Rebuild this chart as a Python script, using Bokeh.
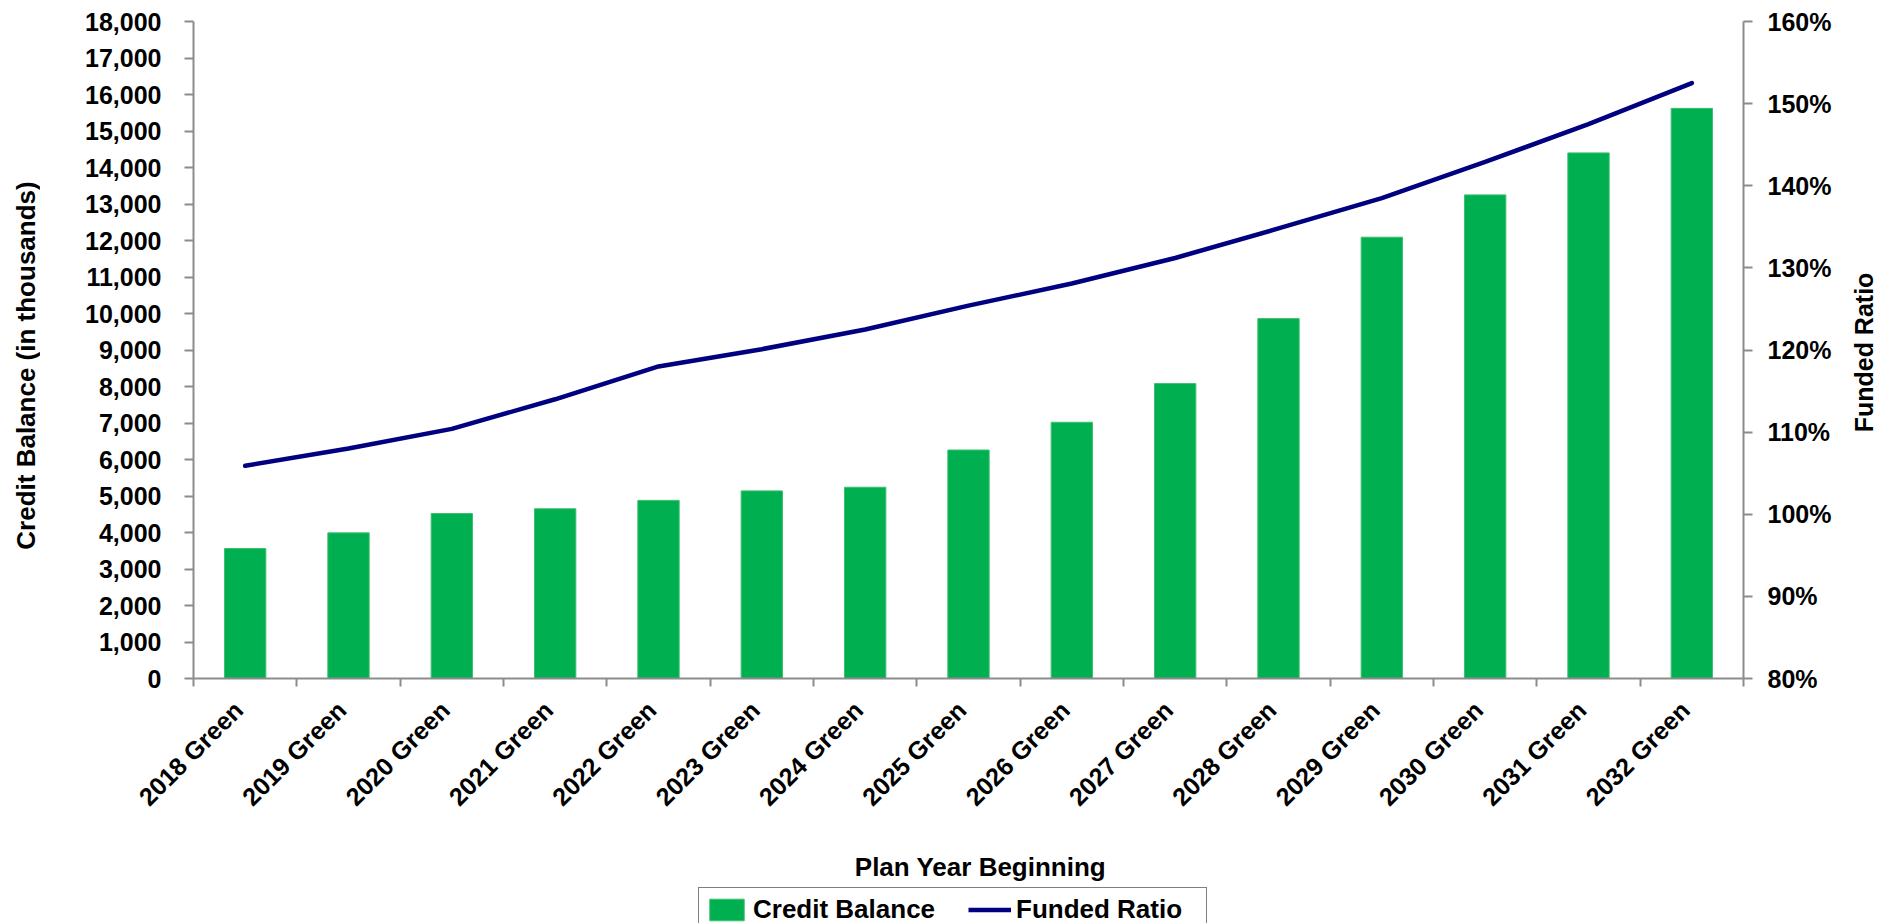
import math
from bokeh.plotting import figure
from bokeh.layouts import column, row
from bokeh.models import (Range1d, LinearAxis, FixedTicker, NumeralTickFormatter,
                          PrintfTickFormatter, Legend, LegendItem, Label)
from bokeh.embed import file_html
from bokeh.resources import INLINE

# ---------------- data ----------------
years = ["2018 Green", "2019 Green", "2020 Green", "2021 Green", "2022 Green",
         "2023 Green", "2024 Green", "2025 Green", "2026 Green", "2027 Green",
         "2028 Green", "2029 Green", "2030 Green", "2031 Green", "2032 Green"]
credit_balance = [3560, 3990, 4520, 4650, 4880, 5140, 5240, 6260, 7020, 8080,
                  9860, 12090, 13250, 14400, 15620]
funded_ratio = [105.9, 108.0, 110.4, 114.0, 118.0, 120.1, 122.5, 125.4, 128.1,
                131.2, 134.8, 138.5, 142.9, 147.5, 152.5]
left_ticks = list(range(0, 18001, 1000))
right_ticks = list(range(80, 161, 10))

GREEN = "#00B050"
BAR_EDGE = "#3cbf6e"
NAVY = "#000080"
AXIS_GRAY = "#8c8c8c"
FONT = "Liberation Sans"

n = len(years)
xpos = [i + 0.5 for i in range(n)]
bounds = list(range(n + 1))
LABEL_SHIFT = 0.065   # nudges the slanted category labels to sit like the original

SIDE_W = 40          # width of the narrow title strips left and right
MAIN_H = 828         # height of the main chart row
BOTTOM_H = 923 - MAIN_H
FRAME_BOTTOM = 678   # page y of the plotting area's bottom edge


def blank(width, height, xr=(0, 1), yr=(0, 1)):
    f = figure(width=width, height=height, output_backend="svg",
               toolbar_location=None, x_range=Range1d(*xr), y_range=Range1d(*yr),
               x_axis_location=None, y_axis_location=None,
               min_border=0, min_border_left=0, min_border_right=0,
               min_border_top=0, min_border_bottom=0)
    f.outline_line_color = None
    f.xgrid.visible = False
    f.ygrid.visible = False
    f.background_fill_color = "white"
    f.border_fill_color = "white"
    return f


def title(fig, text, x, y, angle, size):
    fig.add_layout(Label(x=x, y=y, x_units="screen", y_units="screen", text=text,
                         angle=angle, text_align="center", text_baseline="middle",
                         text_font=FONT, text_font_style="bold",
                         text_font_size=size, text_color="black"))


# ---------------- main chart ----------------
p = figure(width=1887 - 2 * SIDE_W, height=MAIN_H, output_backend="svg",
           toolbar_location=None, x_range=Range1d(0, n), y_range=Range1d(0, 18000),
           min_border_left=193 - SIDE_W, min_border_right=1887 - SIDE_W - 1743,
           min_border_top=21, min_border_bottom=MAIN_H - FRAME_BOTTOM,
           x_axis_location=None, y_axis_location=None)
p.outline_line_color = None
p.xgrid.visible = False
p.ygrid.visible = False
p.background_fill_color = "white"
p.border_fill_color = "white"

p.extra_y_ranges = {"ratio": Range1d(80, 160)}

bars = p.vbar(x=xpos, top=credit_balance, width=0.4, bottom=0,
              fill_color=GREEN, line_color=BAR_EDGE, line_width=1)
line = p.line(x=xpos, y=funded_ratio, y_range_name="ratio", line_color=NAVY,
              line_width=4.5, line_join="round", line_cap="round")


def style_axis(ax, size="25px"):
    ax.axis_line_color = AXIS_GRAY
    ax.axis_line_width = 2
    ax.major_tick_line_color = AXIS_GRAY
    ax.major_tick_line_width = 2
    ax.minor_tick_line_color = AXIS_GRAY
    ax.minor_tick_line_width = 2
    ax.major_label_text_font = FONT
    ax.major_label_text_font_style = "bold"
    ax.major_label_text_font_size = size
    ax.major_label_text_color = "black"


label_pos = [x - LABEL_SHIFT for x in xpos]
xaxis = LinearAxis(ticker=FixedTicker(ticks=label_pos, minor_ticks=bounds),
                   major_label_overrides={x: lab for x, lab in zip(label_pos, years)})
style_axis(xaxis)
xaxis.major_tick_out = 0
xaxis.major_tick_in = 0
xaxis.major_tick_line_color = None
xaxis.minor_tick_out = 8
xaxis.minor_tick_in = 0
xaxis.major_label_orientation = math.pi / 4
xaxis.major_label_standoff = 19
p.add_layout(xaxis, "below")

yaxis = LinearAxis(ticker=FixedTicker(ticks=left_ticks, minor_ticks=[]),
                   formatter=NumeralTickFormatter(format="0,0"))
style_axis(yaxis)
yaxis.major_tick_out = 9
yaxis.major_tick_in = 0
yaxis.major_label_standoff = 23
p.add_layout(yaxis, "left")

raxis = LinearAxis(y_range_name="ratio",
                   ticker=FixedTicker(ticks=right_ticks, minor_ticks=[]),
                   formatter=PrintfTickFormatter(format="%d%%"))
style_axis(raxis)
raxis.major_tick_out = 9
raxis.major_tick_in = 0
raxis.major_label_standoff = 15
p.add_layout(raxis, "right")

# ---------------- side title strips (frames align with the main plot) ----------------
pl = blank(SIDE_W, MAIN_H)
title(pl, "Credit Balance (in thousands)", 25, FRAME_BOTTOM - 365, math.pi / 2, "26px")

pr = blank(SIDE_W, MAIN_H)
title(pr, "Funded Ratio", 1863 - (1887 - SIDE_W), FRAME_BOTTOM - 352, math.pi / 2, "25px")

# ---------------- bottom strip: x title + legend ----------------
# the legend proxies reuse the series but lie outside this strip's ranges
pb = blank(1887, BOTTOM_H, xr=(-20, -10), yr=(-20, -10))
title(pb, "Plan Year Beginning", 980, BOTTOM_H - (866 - MAIN_H), 0, "26px")

leg_bar = pb.vbar(x=xpos, top=credit_balance, width=0.4, bottom=0,
                  fill_color=GREEN, line_color=BAR_EDGE, line_width=1)
leg_line = pb.line(x=xpos, y=funded_ratio, line_color=NAVY, line_width=4.5)

legend = Legend(items=[LegendItem(label="Credit Balance", renderers=[leg_bar]),
                       LegendItem(label="Funded Ratio", renderers=[leg_line])],
                orientation="horizontal", location=(698, -9), margin=0,
                padding=6, spacing=31, label_standoff=5, label_width=184,
                glyph_width=43, glyph_height=27, label_height=30,
                label_text_font=FONT, label_text_font_style="bold",
                label_text_font_size="26px", label_text_color="black",
                border_line_color="black", border_line_width=1.5,
                background_fill_color="white", background_fill_alpha=1)
pb.add_layout(legend)

layout = column(row(pl, p, pr, spacing=0), pb, spacing=0)

open("out.html", "w").write(file_html(layout, INLINE))
